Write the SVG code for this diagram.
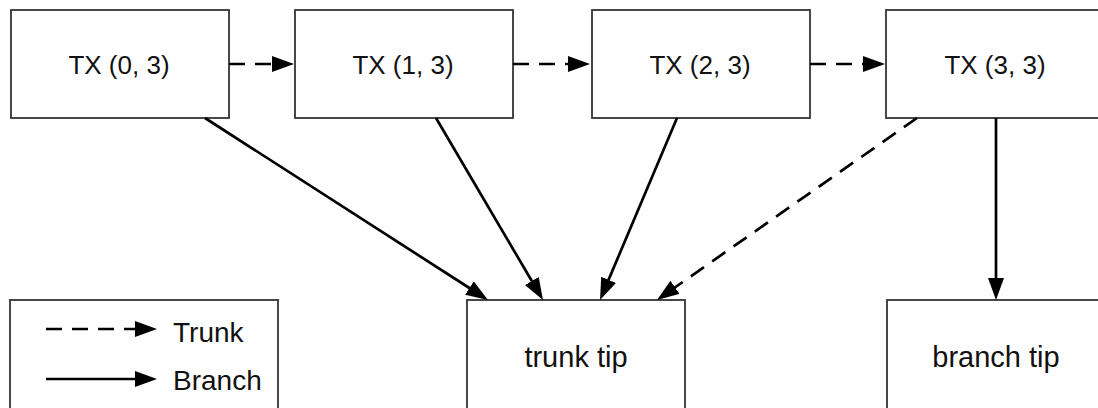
<svg xmlns="http://www.w3.org/2000/svg" width="1098" height="408" viewBox="0 0 1098 408">
  <style>
    .box { fill: #ffffff; stroke: #333333; stroke-width: 1.8; }
    .lbl { font-family: "Liberation Sans", Arial, Helvetica, sans-serif; fill: #111111; text-anchor: middle; }
    .tx { font-size: 26px; }
    .tip { font-size: 29px; }
    .leg { font-family: "Liberation Sans", Arial, Helvetica, sans-serif; fill: #111111; font-size: 28px; }
    .edge { fill: none; stroke: #000000; stroke-width: 2.7; }
    .dash { stroke-dasharray: 16 10; }
  </style>
  <defs>
    <marker id="arrow" markerUnits="userSpaceOnUse" markerWidth="24" markerHeight="18" viewBox="0 0 24 18" refX="11" refY="8" orient="auto">
      <path d="M0,0 L22,8 L0,16 Z" fill="#000000"/>
    </marker>
  </defs>
  <rect width="1098" height="408" fill="#ffffff"/>

  <g id="tx03">
    <rect class="box" x="11" y="10" width="218" height="108"/>
    <text class="lbl tx" x="119" y="74">TX (0, 3)</text>
  </g>
  <g id="tx13">
    <rect class="box" x="295" y="10" width="218" height="108"/>
    <text class="lbl tx" x="403" y="74">TX (1, 3)</text>
  </g>
  <g id="tx23">
    <rect class="box" x="592" y="10" width="218" height="108"/>
    <text class="lbl tx" x="700" y="74">TX (2, 3)</text>
  </g>
  <g id="tx33">
    <rect class="box" x="886" y="10" width="218" height="108"/>
    <text class="lbl tx" x="995" y="74">TX (3, 3)</text>
  </g>
  <g id="trunk-tip">
    <rect class="box" x="467" y="300" width="218" height="116"/>
    <text class="lbl tip" x="576" y="367">trunk tip</text>
  </g>
  <g id="branch-tip">
    <rect class="box" x="887" y="300" width="218" height="116"/>
    <text class="lbl tip" x="996" y="367">branch tip</text>
  </g>

  <g id="connectors">
    <line class="edge dash" x1="229" y1="64" x2="283" y2="64" marker-end="url(#arrow)"/>
    <line class="edge dash" x1="513" y1="64" x2="579" y2="64" marker-end="url(#arrow)"/>
    <line class="edge dash" x1="810" y1="64" x2="874" y2="64" marker-end="url(#arrow)"/>
    <line class="edge" x1="205" y1="118" x2="478.7" y2="294.0" marker-end="url(#arrow)"/>
    <line class="edge" x1="436" y1="118" x2="537.4" y2="290.5" marker-end="url(#arrow)"/>
    <line class="edge" x1="677" y1="118" x2="604.3" y2="289.9" marker-end="url(#arrow)"/>
    <line class="edge dash" x1="917" y1="118" x2="666.0" y2="293.7" marker-end="url(#arrow)"/>
    <line class="edge" x1="996" y1="118" x2="996" y2="289" marker-end="url(#arrow)"/>
  </g>

  <g id="legend">
    <rect class="box" x="10" y="300" width="268" height="116"/>
    <line class="edge dash" x1="46" y1="329" x2="146" y2="329" marker-end="url(#arrow)"/>
    <line class="edge" x1="46" y1="379" x2="146" y2="379" marker-end="url(#arrow)"/>
    <text class="leg" x="173" y="342">Trunk</text>
    <text class="leg" x="173" y="390">Branch</text>
  </g>
</svg>
